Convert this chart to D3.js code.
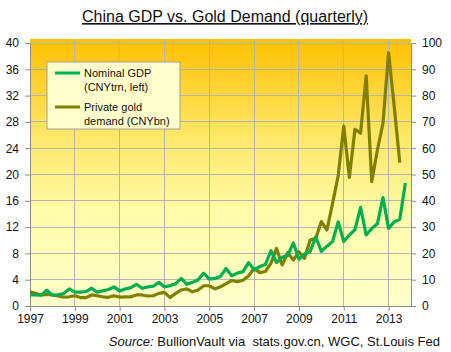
<!DOCTYPE html>
<html>
<head>
<meta charset="utf-8">
<script src="https://cdn.jsdelivr.net/npm/d3@7"></script>
<style>
  html, body { margin: 0; padding: 0; background: #fff; }
  #chart { width: 451px; height: 352px; }
</style>
</head>
<body>
<div id="chart"></div>
<script>
// quarterly series, first point = 1997 Q1
const startYear = 1997;
const gdpTrn = [
    1.7, 1.7, 1.65, 2.4,
    1.65, 1.7, 1.9, 2.6,
    2.1, 2.1, 2.2, 2.7,
    2.1, 2.3, 2.5, 2.9,
    2.3, 2.6, 2.8, 3.3,
    2.7, 2.9, 3.0, 3.6,
    2.9, 3.1, 3.4, 4.2,
    3.3, 3.6, 4.0, 5.0,
    4.1, 4.2, 4.5, 5.7,
    4.6, 5.0, 5.2, 6.6,
    5.5, 6.0, 6.3, 8.4,
    6.6, 7.4, 7.7, 9.6,
    7.1, 7.9, 8.3, 10.5,
    8.3, 9.1, 9.8, 12.8,
    9.8, 10.8, 11.6, 15.0,
    10.8, 11.8, 12.5, 16.5,
    11.8, 12.8, 13.2, 18.7
];
const goldBn = [
    5.4, 4.8, 4.2, 4.4,
    4.2, 3.8, 3.4, 3.5,
    3.9, 3.2, 3.2, 4.2,
    3.9, 3.5, 3.3, 3.9,
    3.4, 3.5, 3.5, 4.2,
    4.2, 3.8, 3.9, 4.8,
    5.2, 3.2, 4.8, 6.1,
    6.5, 5.4, 6.1, 7.7,
    7.7, 6.5, 7.3, 8.5,
    9.7, 9.2, 9.8, 11.4,
    14.3, 12.7, 13.1, 16.2,
    21.9, 15.6, 20.3, 17.5,
    20.6, 18.1, 25.1, 25.7,
    32.1, 28.9, 39, 49.5,
    68.4, 48.9, 67.2, 65.7,
    87.5, 47.3, 59.3, 69.5,
    96.3, 76, 54.5
];
const yearTicks = [1997, 1999, 2001, 2003, 2005, 2007, 2009, 2011, 2013];
const leftTicks = [0, 4, 8, 12, 16, 20, 24, 28, 32, 36, 40];
const rightTicks = [0, 10, 20, 30, 40, 50, 60, 70, 80, 90, 100];

const width = 451;
const height = 352;
const margin = { top: 39, right: 40, bottom: 46, left: 30 };
const font = "'Liberation Sans', Arial, sans-serif";

const svg = d3.select("#chart").append("svg")
    .attr("width", width)
    .attr("height", height)
    .style("font-family", font);

const x = d3.scaleLinear()
    .domain([1997, 2014])
    .range([margin.left, width - margin.right]);

const yL = d3.scaleLinear()
    .domain([0, 40])
    .range([306, 43]);

const yR = d3.scaleLinear()
    .domain([0, 100])
    .range([306, 43]);

// background gradient
const grad = svg.append("defs").append("linearGradient")
    .attr("id", "bg").attr("x1", 0).attr("y1", 0).attr("x2", 0).attr("y2", 1);
grad.append("stop").attr("offset", "0%").attr("stop-color", "#FFC000");
grad.append("stop").attr("offset", "35%").attr("stop-color", "#FFE664");
grad.append("stop").attr("offset", "65%").attr("stop-color", "#FFFBA8");
grad.append("stop").attr("offset", "100%").attr("stop-color", "#FFFFCC");

svg.append("rect")
    .attr("x", margin.left)
    .attr("y", margin.top)
    .attr("width", width - margin.right - margin.left)
    .attr("height", 306 - margin.top)
    .attr("fill", "url(#bg)");

// grid
svg.append("g")
    .selectAll("line")
    .data(leftTicks.slice(1))
    .join("line")
    .attr("x1", margin.left).attr("x2", width - margin.right)
    .attr("y1", d => yL(d)).attr("y2", d => yL(d))
    .attr("stroke", "#B4B4B4").attr("stroke-width", 1)
    .attr("shape-rendering", "crispEdges");

svg.append("g")
    .selectAll("line")
    .data(yearTicks.slice(1))
    .join("line")
    .attr("x1", d => x(d)).attr("x2", d => x(d))
    .attr("y1", margin.top).attr("y2", 306)
    .attr("stroke", "#B4B4B4").attr("stroke-width", 1)
    .attr("shape-rendering", "crispEdges");

// axes
function styleAxis(g) {
    g.select(".domain").attr("stroke", "#8C8C8C");
    g.selectAll(".tick line").attr("stroke", "#8C8C8C");
    g.selectAll(".tick text")
        .attr("fill", "#111")
        .style("font-size", "12px")
        .style("font-family", font);
}

svg.append("g")
    .attr("transform", `translate(0,306)`)
    .call(d3.axisBottom(x).tickValues(yearTicks).tickFormat(d3.format("d")).tickSize(5).tickSizeOuter(0).tickPadding(3))
    .call(styleAxis);

svg.append("g")
    .attr("transform", `translate(${margin.left},0)`)
    .call(d3.axisLeft(yL).tickValues(leftTicks).tickSize(5).tickSizeOuter(0).tickPadding(6))
    .call(styleAxis);

svg.append("g")
    .attr("transform", `translate(${width - margin.right},0)`)
    .call(d3.axisRight(yR).tickValues(rightTicks).tickSize(5).tickSizeOuter(0).tickPadding(6))
    .call(styleAxis);

svg.selectAll(".domain").attr("shape-rendering", "crispEdges");

// lines
const qx = (d, i) => x(startYear + i / 4);

svg.append("path")
    .datum(goldBn)
    .attr("fill", "none")
    .attr("stroke", "#808000")
    .attr("stroke-width", 3.2)
    .attr("stroke-linejoin", "round")
    .attr("d", d3.line().x(qx).y(d => yR(d)));

svg.append("path")
    .datum(gdpTrn)
    .attr("fill", "none")
    .attr("stroke", "#00B050")
    .attr("stroke-width", 3.2)
    .attr("stroke-linejoin", "round")
    .attr("d", d3.line().x(qx).y(d => yL(d)));

// legend
const legend = svg.append("g").attr("transform", "translate(47,62)");
legend.append("rect")
    .attr("width", 133).attr("height", 67)
    .attr("fill", "#FFFFCC")
    .attr("stroke", "#A0A0A0");

const legendItems = [
    { color: "#00B050", lines: ["Nominal GDP", "(CNYtrn, left)"], y: 11 },
    { color: "#808000", lines: ["Private gold", "demand (CNYbn)"], y: 45 }
];
legendItems.forEach(item => {
    legend.append("line")
        .attr("x1", 8).attr("x2", 33)
        .attr("y1", item.y).attr("y2", item.y)
        .attr("stroke", item.color).attr("stroke-width", 3);
    item.lines.forEach((t, j) => {
        legend.append("text")
            .attr("x", 37)
            .attr("y", item.y + 4 + j * 14)
            .attr("fill", "#111")
            .style("font-size", "11px")
            .text(t);
    });
});

// title
svg.append("text")
    .attr("x", 225)
    .attr("y", 22)
    .attr("text-anchor", "middle")
    .attr("fill", "#111")
    .style("font-size", "16px")
    .style("text-decoration", "underline")
    .text("China GDP vs. Gold Demand (quarterly)");

// source
const src = svg.append("text")
    .attr("x", 440)
    .attr("y", 346)
    .attr("text-anchor", "end")
    .attr("fill", "#111")
    .attr("xml:space", "preserve")
    .style("white-space", "pre")
    .style("font-size", "13px");
src.append("tspan").style("font-style", "italic").text("Source:");
src.append("tspan").text(" BullionVault via  stats.gov.cn, WGC, St.Louis Fed");
</script>
</body>
</html>
